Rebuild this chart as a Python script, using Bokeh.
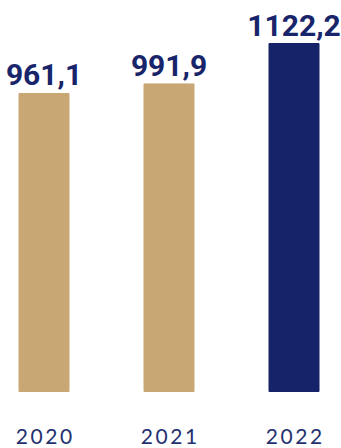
from bokeh.plotting import figure
from bokeh.models import ColumnDataSource, Range1d
from bokeh.core.properties import value
from bokeh.embed import file_html
from bokeh.resources import INLINE

years = ["2020", "2021", "2022"]
values = [961.1, 991.9, 1122.2]
value_labels = ["961,1", "991,9", "1122,2"]
colors = ["#c9a774", "#c9a774", "#172368"]

SP = "\u2009"
year_labels = [SP.join(y) for y in years]
xs = list(range(len(years)))

src = ColumnDataSource(dict(x=xs, top=values, color=colors, vlab=value_labels,
                            ylab=year_labels, ly=[-142] * len(years)))

# 1 px = 3.225 units, zero at y=391 px from top, bar centres at 43.5 + 125*i px
W, H = 341, 448
p = figure(width=W, height=H, output_backend="svg", toolbar_location=None,
           x_range=Range1d(-43.5 / 125, (W - 43.5) / 125),
           y_range=Range1d(-(H - 391) * 3.225, 391 * 3.225),
           min_border=0, min_border_left=0, min_border_right=0,
           min_border_top=0, min_border_bottom=0)
p.axis.visible = False
p.grid.visible = False
p.outline_line_color = None
p.background_fill_color = "white"

p.vbar(x="x", top="top", bottom=0, width=0.4, color="color", source=src)
p.text(x="x", y="top", text="vlab", source=src, text_align="center",
       text_baseline="bottom", y_offset=-8, text_font=value("Roboto"),
       text_font_style="bold", text_font_size="30px", text_color="#18256a")
p.text(x="x", y="ly", text="ylab", source=src, text_align="center",
       text_baseline="middle", text_font=value("Lato"),
       text_font_size="21px", text_color="#24316f")

open("out.html", "w").write(file_html(p, INLINE))
